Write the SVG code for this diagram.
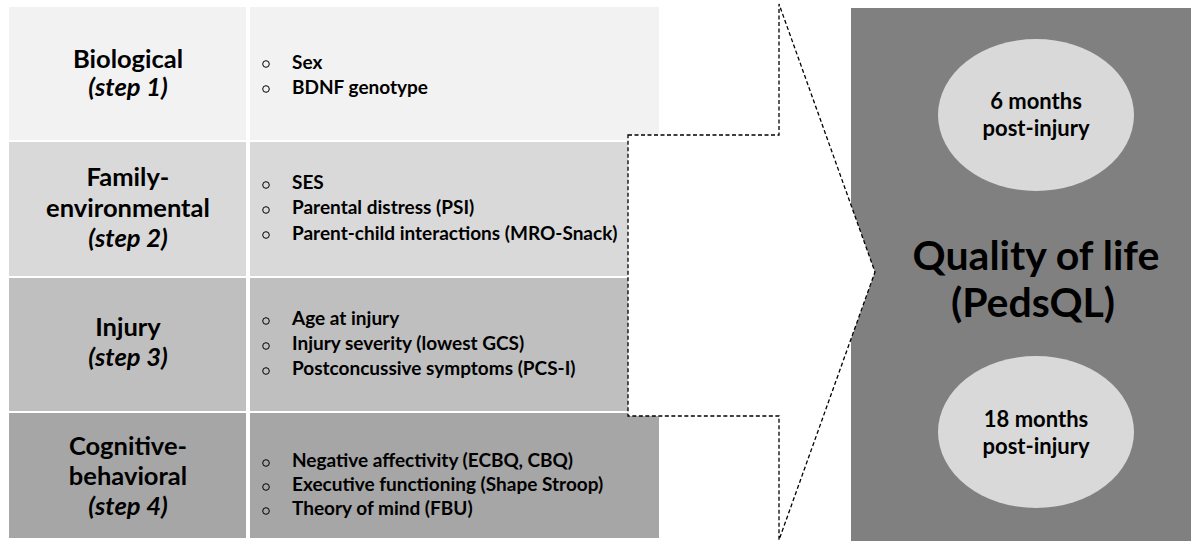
<svg xmlns="http://www.w3.org/2000/svg" width="1191" height="541" viewBox="0 0 1191 541">
  <style>
    .lbl { font-family: Lato, "Open Sans", sans-serif; font-weight: bold; font-size: 25.5px; fill: #000; text-anchor: middle; }
    .lbl .it { font-style: italic; }
    .item { font-family: Lato, "Open Sans", sans-serif; font-weight: bold; font-size: 19px; fill: #000; }
    .bul { fill: none; stroke: #000; stroke-width: 1; }
    .big { font-family: Lato, "Open Sans", sans-serif; font-weight: bold; font-size: 41px; fill: #000; text-anchor: middle; }
    .ell { font-family: Lato, "Open Sans", sans-serif; font-weight: bold; font-size: 22px; fill: #000; text-anchor: middle; }
    .arrow { fill: #fff; stroke: #000; stroke-width: 1.3; stroke-dasharray: 4 2.5; }
  </style>

  <!-- Step 1: biological -->
  <g id="step1">
    <rect x="9" y="7" width="237" height="133" fill="#f2f2f2"/>
    <rect x="250" y="7" width="409" height="133" fill="#f2f2f2"/>
    <text class="lbl" x="128" y="68">Biological</text>
    <text class="lbl" x="128" y="96"><tspan class="it">(step 1)</tspan></text>
    <circle class="bul" cx="266" cy="64" r="3.3"/>
    <circle class="bul" cx="266" cy="89" r="3.3"/>
    <text class="item" x="292" y="69">Sex</text>
    <text class="item" x="292" y="94">BDNF genotype</text>
  </g>

  <!-- Step 2: family-environmental -->
  <g id="step2">
    <rect x="9" y="142" width="237" height="134" fill="#d9d9d9"/>
    <rect x="250" y="142" width="409" height="134" fill="#d9d9d9"/>
    <text class="lbl" x="128" y="186">Family-</text>
    <text class="lbl" x="128" y="217">environmental</text>
    <text class="lbl" x="128" y="247"><tspan class="it">(step 2)</tspan></text>
    <circle class="bul" cx="266" cy="185" r="3.3"/>
    <circle class="bul" cx="266" cy="210" r="3.3"/>
    <circle class="bul" cx="266" cy="235" r="3.3"/>
    <text class="item" x="292" y="189">SES</text>
    <text class="item" x="292" y="214">Parental distress (PSI)</text>
    <text class="item" x="292" y="240">Parent-child interactions (MRO-Snack)</text>
  </g>

  <!-- Step 3: injury -->
  <g id="step3">
    <rect x="9" y="278" width="237" height="133" fill="#bfbfbf"/>
    <rect x="250" y="278" width="409" height="133" fill="#bfbfbf"/>
    <text class="lbl" x="128" y="336">Injury</text>
    <text class="lbl" x="128" y="366"><tspan class="it">(step 3)</tspan></text>
    <circle class="bul" cx="266" cy="321" r="3.3"/>
    <circle class="bul" cx="266" cy="346" r="3.3"/>
    <circle class="bul" cx="266" cy="371" r="3.3"/>
    <text class="item" x="292" y="325">Age at injury</text>
    <text class="item" x="292" y="350">Injury severity (lowest GCS)</text>
    <text class="item" x="292" y="375">Postconcussive symptoms (PCS-I)</text>
  </g>

  <!-- Step 4: cognitive-behavioral -->
  <g id="step4">
    <rect x="9" y="413" width="237" height="125" fill="#a6a6a6"/>
    <rect x="250" y="413" width="409" height="125" fill="#a6a6a6"/>
    <text class="lbl" x="128" y="455">Cognitive-</text>
    <text class="lbl" x="128" y="485">behavioral</text>
    <text class="lbl" x="128" y="515"><tspan class="it">(step 4)</tspan></text>
    <circle class="bul" cx="266" cy="463" r="3.3"/>
    <circle class="bul" cx="266" cy="487" r="3.3"/>
    <circle class="bul" cx="266" cy="511" r="3.3"/>
    <text class="item" x="292" y="467">Negative affectivity (ECBQ, CBQ)</text>
    <text class="item" x="292" y="491">Executive functioning (Shape Stroop)</text>
    <text class="item" x="292" y="515">Theory of mind (FBU)</text>
  </g>

  <!-- Outcome: quality of life -->
  <g id="outcome">
    <rect x="851" y="8" width="340" height="533" fill="#808080"/>
    <text class="big" x="1036" y="270">Quality of life</text>
    <text class="big" x="1033" y="317">(PedsQL)</text>
  </g>

  <g id="t6">
    <ellipse cx="1036" cy="115" rx="98" ry="76" fill="#d9d9d9"/>
    <text class="ell" x="1036" y="109">6 months</text>
    <text class="ell" x="1036" y="136">post-injury</text>
  </g>

  <g id="t18">
    <ellipse cx="1036" cy="432" rx="98" ry="76" fill="#d9d9d9"/>
    <text class="ell" x="1036" y="427">18 months</text>
    <text class="ell" x="1036" y="454">post-injury</text>
  </g>

  <!-- Block arrow from predictors to outcome -->
  <g id="connectors">
    <polygon class="arrow" points="628,135 779,135 779,4 875,272 779,540 779,416 628,416"/>
  </g>
</svg>
